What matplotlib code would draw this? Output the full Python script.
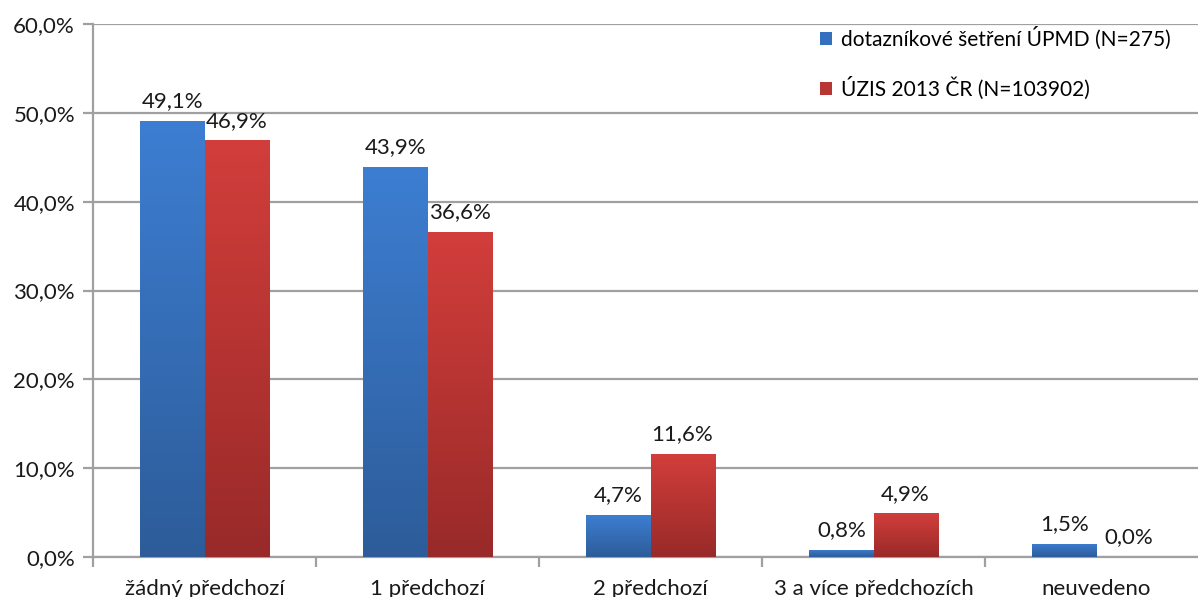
import numpy as np
import matplotlib.pyplot as plt
from matplotlib.colors import LinearSegmentedColormap
from matplotlib.patches import Patch

categories = ["žádný předchozí", "1 předchozí", "2 předchozí", "3 a více předchozích", "neuvedeno"]
upmd_values = [49.1, 43.9, 4.7, 0.8, 1.5]
uzis_values = [46.9, 36.6, 11.6, 4.9, 0.0]
series_names = ["dotazníkové šetření ÚPMD (N=275)", "ÚZIS 2013 ČR (N=103902)"]
y_ticks = [0, 10, 20, 30, 40, 50, 60]

plt.rcParams["font.family"] = ["Lato", "DejaVu Sans"]
FS = 16

blue_map = LinearSegmentedColormap.from_list("blue_grad", ["#2D5C99", "#3D7ED2"])
red_map = LinearSegmentedColormap.from_list("red_grad", ["#982A29", "#D23E3B"])


def shade_bars(ax, bars, cmap):
    grad = np.linspace(0, 1, 256).reshape(-1, 1)
    for bar in bars:
        x, y = bar.get_xy()
        w, h = bar.get_width(), bar.get_height()
        if h <= 0:
            continue
        bar.set_facecolor("none")
        img = ax.imshow(grad, cmap=cmap, aspect="auto", origin="lower",
                        extent=[x, x + w, y, y + h], zorder=bar.get_zorder())
        img.set_clip_path(bar)


def label_bars(ax, bars, values):
    for bar, v in zip(bars, values):
        ax.annotate(f"{v:.1f}%".replace(".", ","),
                    (bar.get_x() + bar.get_width() / 2, bar.get_height()),
                    xytext=(0, 7), textcoords="offset points",
                    ha="center", va="bottom", fontsize=FS, color="#1a1a1a")


fig = plt.figure(figsize=(11.98, 5.97), dpi=100)
ax = fig.add_axes([93 / 1198, 40 / 597, 1115 / 1198, 533 / 597])

x = np.arange(len(categories))
width = 0.287
b1 = ax.bar(x - width / 2, upmd_values, width, color="#3D7ED2", label=series_names[0], zorder=3)
b2 = ax.bar(x + width / 2, uzis_values, width, color="#D23E3B", label=series_names[1], zorder=3)
shade_bars(ax, b1, blue_map)
shade_bars(ax, b2, red_map)
label_bars(ax, b1, upmd_values)
label_bars(ax, b2, uzis_values)

ax.set_xlim(-0.5, len(categories) - 0.5)
ax.set_ylim(0, 60)
ax.set_yticks(y_ticks)
ax.set_yticklabels([f"{t:.1f}%".replace(".", ",") for t in y_ticks])
ax.set_xticks(x)
ax.set_xticklabels(categories)
ax.set_xticks(np.arange(len(categories) + 1) - 0.5, minor=True)
ax.tick_params(axis="x", which="major", length=0, pad=16, labelsize=FS, colors="#1a1a1a")
ax.tick_params(axis="x", which="minor", length=7, width=1.6, color="#A0A0A0")
ax.tick_params(axis="y", length=7, width=1.6, color="#A0A0A0", pad=6, labelsize=FS, labelcolor="#1a1a1a")

ax.grid(axis="y", color="#A0A0A0", linewidth=1.6, zorder=0)
ax.set_axisbelow(True)
for side in ["top", "right"]:
    ax.spines[side].set_visible(False)
for side in ["left", "bottom"]:
    ax.spines[side].set_color("#A0A0A0")
    ax.spines[side].set_linewidth(1.6)

handles = [Patch(facecolor="#3570BE"), Patch(facecolor="#B73533")]
ax.legend(handles, series_names, loc="upper left", bbox_to_anchor=(0.635, 1.03),
          frameon=False, fontsize=15, handlelength=0.6, handleheight=0.6,
          handletextpad=0.4, labelspacing=1.3)

fig.savefig("out.png", dpi=100)
